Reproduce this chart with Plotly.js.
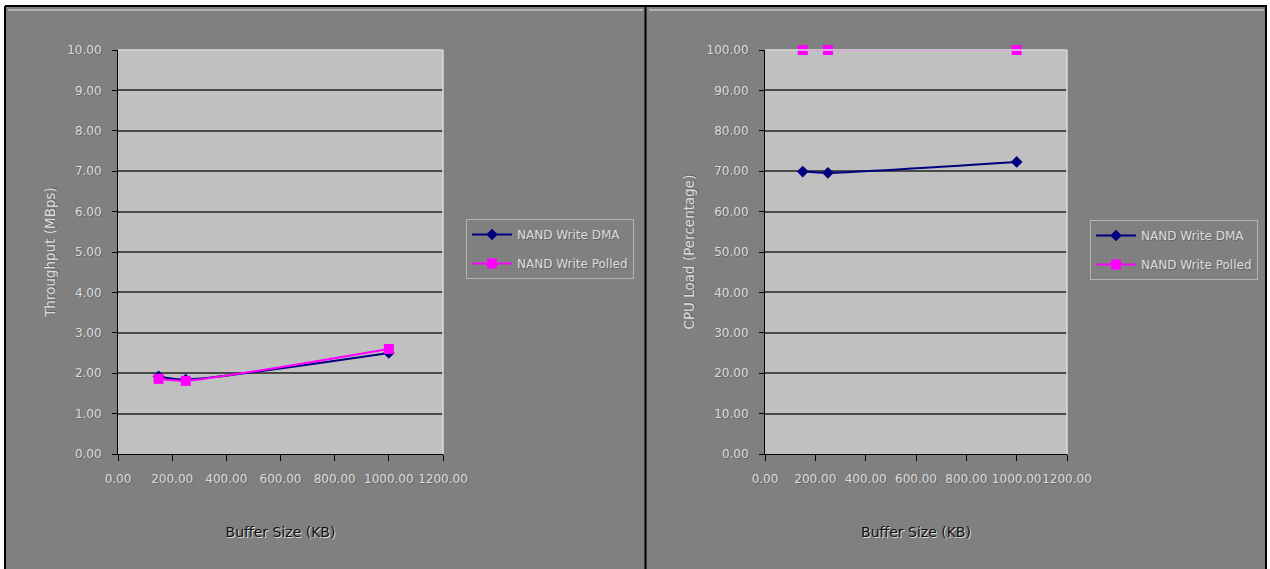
<!DOCTYPE html>
<html>
<head>
<meta charset="utf-8">
<script src="https://cdn.plot.ly/plotly-3.0.1.min.js"></script>
<style>html,body{margin:0;padding:0;background:#fff;}#chart{width:1270px;height:569px;}</style>
</head>
<body>
<div id="chart"></div>
<script>
// ---- data ----
const bufferSizeKB = [150, 250, 1000];
const throughputDMA = [1.92, 1.84, 2.50];
const throughputPolled = [1.86, 1.81, 2.60];
const cpuLoadDMA = [69.9, 69.6, 72.3];
const cpuLoadPolled = [100, 100, 100];
const seriesNames = ["NAND Write DMA", "NAND Write Polled"];
const xTitle = "Buffer Size (KB)";
const yTitleLeft = "Throughput (MBps)";
const yTitleRight = "CPU Load (Percentage)";

// ---- styling helpers ----
const W = 1270, H = 569;
const px = v => v / W;
const py = v => 1 - v / H;
const FONT = "DejaVu Sans, Liberation Sans, Arial, sans-serif";
const lightFont = {family: FONT, size: 12, color: "#dcdcdc", shadow: "1px 1px 0 #666"};
const darkTitle = {family: FONT, size: 14, color: "#111", shadow: "1px 1px 0 #ddd"};
const lightTitle = {family: FONT, size: 13.5, color: "#dcdcdc", shadow: "1px 1px 0 #666"};

const dmaStyle = {mode: "lines+markers", line: {color: "#000080", width: 2, shape: "spline", smoothing: 0.6},
  marker: {symbol: "diamond", size: 9, color: "#000080"}, cliponaxis: false};
const polStyle = {mode: "lines+markers", line: {color: "#ff00ff", width: 2, shape: "spline", smoothing: 0.6},
  marker: {symbol: "square", size: 10, color: "#ff00ff"}, cliponaxis: false};

const traces = [
  Object.assign({x: bufferSizeKB, y: throughputDMA, name: seriesNames[0], xaxis: "x", yaxis: "y", legend: "legend", legendgroup: "l1a"}, dmaStyle),
  Object.assign({x: bufferSizeKB, y: throughputPolled, name: seriesNames[1], xaxis: "x", yaxis: "y", legend: "legend", legendgroup: "l1b"}, polStyle),
  Object.assign({x: bufferSizeKB, y: cpuLoadDMA, name: seriesNames[0], xaxis: "x2", yaxis: "y2", legend: "legend2", legendgroup: "l2a"}, dmaStyle),
  Object.assign({x: bufferSizeKB, y: cpuLoadPolled, name: seriesNames[1], xaxis: "x2", yaxis: "y2", legend: "legend2", legendgroup: "l2b"}, polStyle)
];

function xAxis(domain, anchor) {
  return {domain: domain, anchor: anchor, range: [0, 1200], dtick: 200, tick0: 0, tickformat: ".2f",
    showgrid: false, zeroline: false, showline: true, linecolor: "#000", linewidth: 1,
    ticks: "outside", ticklen: 6, tickcolor: "#000", ticklabelstandoff: 8, tickangle: 0,
    tickfont: lightFont, title: {text: xTitle, font: darkTitle, standoff: 41}, fixedrange: true};
}
function yAxis(domain, anchor, max, step, title) {
  return {domain: domain, anchor: anchor, range: [0, max], dtick: step, tick0: 0, tickformat: ".2f",
    showgrid: true, gridcolor: "#4a4a4a", gridwidth: 2, zeroline: false,
    showline: true, linecolor: "#000", linewidth: 1,
    ticks: "outside", ticklen: 5, tickcolor: "#000", ticklabelstandoff: 8,
    tickfont: lightFont, title: {text: title, font: lightTitle, standoff: 8}, fixedrange: true};
}

const yDom = [py(454), py(50)];
const legendBase = {bgcolor: "#808080", bordercolor: "#b4b4b4", borderwidth: 1, font: {family: FONT, size: 12, color: "#dcdcdc", shadow: "1px 1px 0 #666"},
  xanchor: "left", yanchor: "top", tracegroupgap: 10, itemwidth: 40};

const shapes = [
  // white outer margins
  {type: "rect", xref: "paper", yref: "paper", x0: 0, x1: px(5), y0: 0, y1: 1, fillcolor: "#fff", line: {width: 0}},
  {type: "rect", xref: "paper", yref: "paper", x0: 0, x1: 1, y0: py(6), y1: 1, fillcolor: "#fff", line: {width: 0}},
  {type: "rect", xref: "paper", yref: "paper", x0: px(1267), x1: 1, y0: 0, y1: 1, fillcolor: "#fff", line: {width: 0}},
  // black frame
  {type: "line", xref: "paper", yref: "paper", x0: px(5), x1: px(1267), y0: py(6), y1: py(6), line: {color: "#000", width: 2}},
  {type: "line", xref: "paper", yref: "paper", x0: px(5), x1: px(5), y0: 0, y1: py(6), line: {color: "#000", width: 2}},
  {type: "line", xref: "paper", yref: "paper", x0: px(1266), x1: px(1266), y0: 0, y1: py(6), line: {color: "#000", width: 2}},
  {type: "line", xref: "paper", yref: "paper", x0: px(645.5), x1: px(645.5), y0: 0, y1: py(6), line: {color: "#000", width: 2}},
  // light inner highlight
  {type: "line", xref: "paper", yref: "paper", x0: px(8), x1: px(643), y0: py(10), y1: py(10), line: {color: "#e8e8e8", width: 1}},
  {type: "line", xref: "paper", yref: "paper", x0: px(649), x1: px(1264), y0: py(10), y1: py(10), line: {color: "#e8e8e8", width: 1}},
  // plot area light borders (top/right)
  {type: "line", xref: "x domain", yref: "y domain", x0: 0, x1: 1, y0: 1, y1: 1, line: {color: "#d8d8d8", width: 1.5}},
  {type: "line", xref: "x domain", yref: "y domain", x0: 1, x1: 1, y0: 0, y1: 1, line: {color: "#d8d8d8", width: 1.5}},
  {type: "line", xref: "x2 domain", yref: "y2 domain", x0: 0, x1: 1, y0: 1, y1: 1, line: {color: "#d8d8d8", width: 1.5}},
  {type: "line", xref: "x2 domain", yref: "y2 domain", x0: 1, x1: 1, y0: 0, y1: 1, line: {color: "#d8d8d8", width: 1.5}}
];

const layout = {
  width: W, height: H,
  margin: {l: 0, r: 0, t: 0, b: 0},
  paper_bgcolor: "#808080", plot_bgcolor: "#c0c0c0",
  font: {family: FONT, size: 12, color: "#dcdcdc"},
  xaxis: xAxis([px(118), px(443)], "y"),
  yaxis: yAxis(yDom, "x", 10, 1, yTitleLeft),
  xaxis2: xAxis([px(765), px(1067)], "y2"),
  yaxis2: yAxis(yDom, "x2", 100, 10, yTitleRight),
  legend: Object.assign({x: px(466), y: py(219)}, legendBase),
  legend2: Object.assign({x: px(1090), y: py(220)}, legendBase),
  shapes: shapes,
  showlegend: true
};

Plotly.newPlot("chart", traces, layout, {displayModeBar: false, staticPlot: true});
</script>
</body>
</html>
